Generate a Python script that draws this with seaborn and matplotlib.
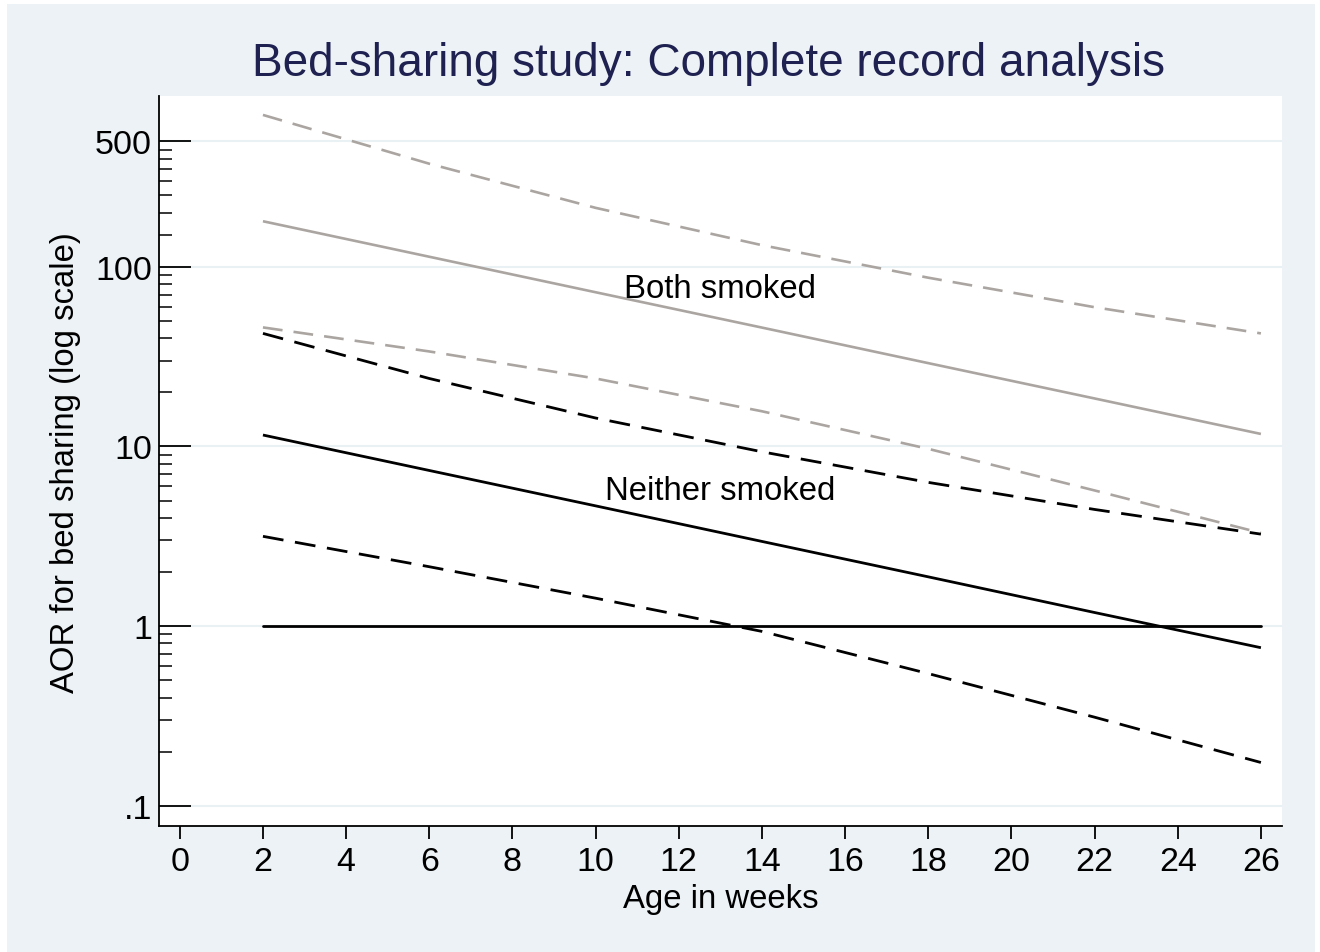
import numpy as np
import pandas as pd
import matplotlib
matplotlib.use("Agg")
import matplotlib.pyplot as plt
from matplotlib.patches import Rectangle
from matplotlib.ticker import FixedLocator, NullFormatter
import seaborn as sns

# Age (weeks) at which the fitted adjusted odds ratios are evaluated
weeks = [2, 6, 10, 14, 18, 22, 26]

# Both parents smoked: estimate and 95% CI
both_aor = [179.4, 113.8, 72.2, 45.9, 29.1, 18.5, 11.74]
both_upper = [701, 375, 213, 132, 87.0, 59.6, 42.6]
both_lower = [46.0, 33.8, 23.9, 15.7, 9.70, 5.69, 3.30]

# Neither parent smoked: estimate and 95% CI
neither_aor = [11.58, 7.35, 4.67, 2.96, 1.88, 1.19, 0.758]
neither_upper = [42.6, 23.9, 14.4, 9.34, 6.31, 4.46, 3.25]
neither_lower = [3.16, 2.14, 1.43, 0.934, 0.544, 0.311, 0.174]

# Reference line at AOR = 1
ref_weeks = [2, 26]
ref_value = [1, 1]

x_ticks = list(range(0, 27, 2))
y_ticks = [0.1, 1, 10, 100, 500]
y_tick_labels = [".1", "1", "10", "100", "500"]
y_minor = ([v / 10 for v in range(2, 10)] + list(range(2, 10))
           + list(range(20, 100, 10)) + list(range(150, 500, 50)))

title = "Bed-sharing study: Complete record analysis"
x_label = "Age in weeks"
y_label = "AOR for bed sharing (log scale)"

sns.set_style("ticks")
plt.rcParams["font.family"] = ["Liberation Sans", "DejaVu Sans"]
plt.rcParams["text.color"] = "black"
plt.rcParams["axes.labelcolor"] = "black"

bg = "#ECF2F5"
grid_col = "#EAF1F4"
grey = "#ABA5A1"
navy = "#1F2150"

fig = plt.figure(figsize=(13.2, 9.53), dpi=100, facecolor="white")
# outer light bluish-grey graph region
fig.patches.append(Rectangle((7 / 1320, 0), 1308 / 1320, 948 / 953,
                             transform=fig.transFigure, facecolor=bg,
                             edgecolor="none", zorder=-10))
ax = fig.add_axes([159 / 1320, 1 - 827.3 / 953, (1281.7 - 159) / 1320,
                   (827.3 - 97.3) / 953])
ax.set_facecolor("white")

df = pd.DataFrame({
    "week": weeks * 6,
    "aor": both_upper + both_aor + both_lower
           + neither_upper + neither_aor + neither_lower,
    "series": (["both_upper"] * 7 + ["both_aor"] * 7 + ["both_lower"] * 7
               + ["neither_upper"] * 7 + ["neither_aor"] * 7
               + ["neither_lower"] * 7),
})

styles = {
    "both_upper": dict(color=grey, lw=1.9, dashes=(7.5, 4.2)),
    "both_aor": dict(color=grey, lw=1.9, dashes=None),
    "both_lower": dict(color=grey, lw=1.9, dashes=(7.5, 4.2)),
    "neither_upper": dict(color="black", lw=2.0, dashes=(7.5, 4.2)),
    "neither_aor": dict(color="black", lw=2.0, dashes=None),
    "neither_lower": dict(color="black", lw=2.0, dashes=(7.5, 4.2)),
}

# horizontal grid at major ticks
for yv in y_ticks:
    ax.axhline(yv, color=grid_col, lw=1.5, zorder=0)

for name, st in styles.items():
    sub = df[df["series"] == name]
    sns.lineplot(data=sub, x="week", y="aor", ax=ax, color=st["color"],
                 linewidth=st["lw"], estimator=None, sort=True, legend=False)
    ln = ax.lines[-1]
    if st["dashes"] is not None:
        ln.set_dashes(st["dashes"])
    ln.set_solid_capstyle("butt")
    ln.set_dash_capstyle("butt")

ref = pd.DataFrame({"week": ref_weeks, "aor": ref_value})
sns.lineplot(data=ref, x="week", y="aor", ax=ax, color="black", linewidth=2.0,
             estimator=None, legend=False)

ax.set_yscale("log")
ax.set_xlim(-0.5, 26.5)
ax.set_ylim(0.0768, 890)

ax.set_xticks(x_ticks)
ax.set_xticklabels([str(t) for t in x_ticks])
ax.set_yticks(y_ticks)
ax.set_yticklabels(y_tick_labels)
ax.yaxis.set_minor_locator(FixedLocator(y_minor))
ax.yaxis.set_minor_formatter(NullFormatter())

ax.tick_params(axis="x", direction="out", length=9.5, width=1.3, labelsize=24.5,
               pad=5, colors="black")
ax.tick_params(axis="y", which="major", direction="in", length=23, width=1.3,
               labelsize=24.5, pad=5, colors="black")
ax.tick_params(axis="y", which="minor", direction="in", length=9, width=1.3)

for side in ["top", "right"]:
    ax.spines[side].set_visible(False)
for side in ["left", "bottom"]:
    ax.spines[side].set_linewidth(1.3)
    ax.spines[side].set_color("black")

ax.set_xlabel(x_label, fontsize=23.7, labelpad=4)
ax.set_ylabel(y_label, fontsize=23.7, labelpad=10)

ax.text(13, 76, "Both smoked", ha="center", va="center", fontsize=23.7)
ax.text(13, 5.7, "Neither smoked", ha="center", va="center", fontsize=23.7)

fig.text(708 / 1320, 1 - 64 / 953, title, ha="center", va="center",
         fontsize=33, color=navy)

fig.savefig("out.png", dpi=100, facecolor=fig.get_facecolor())
